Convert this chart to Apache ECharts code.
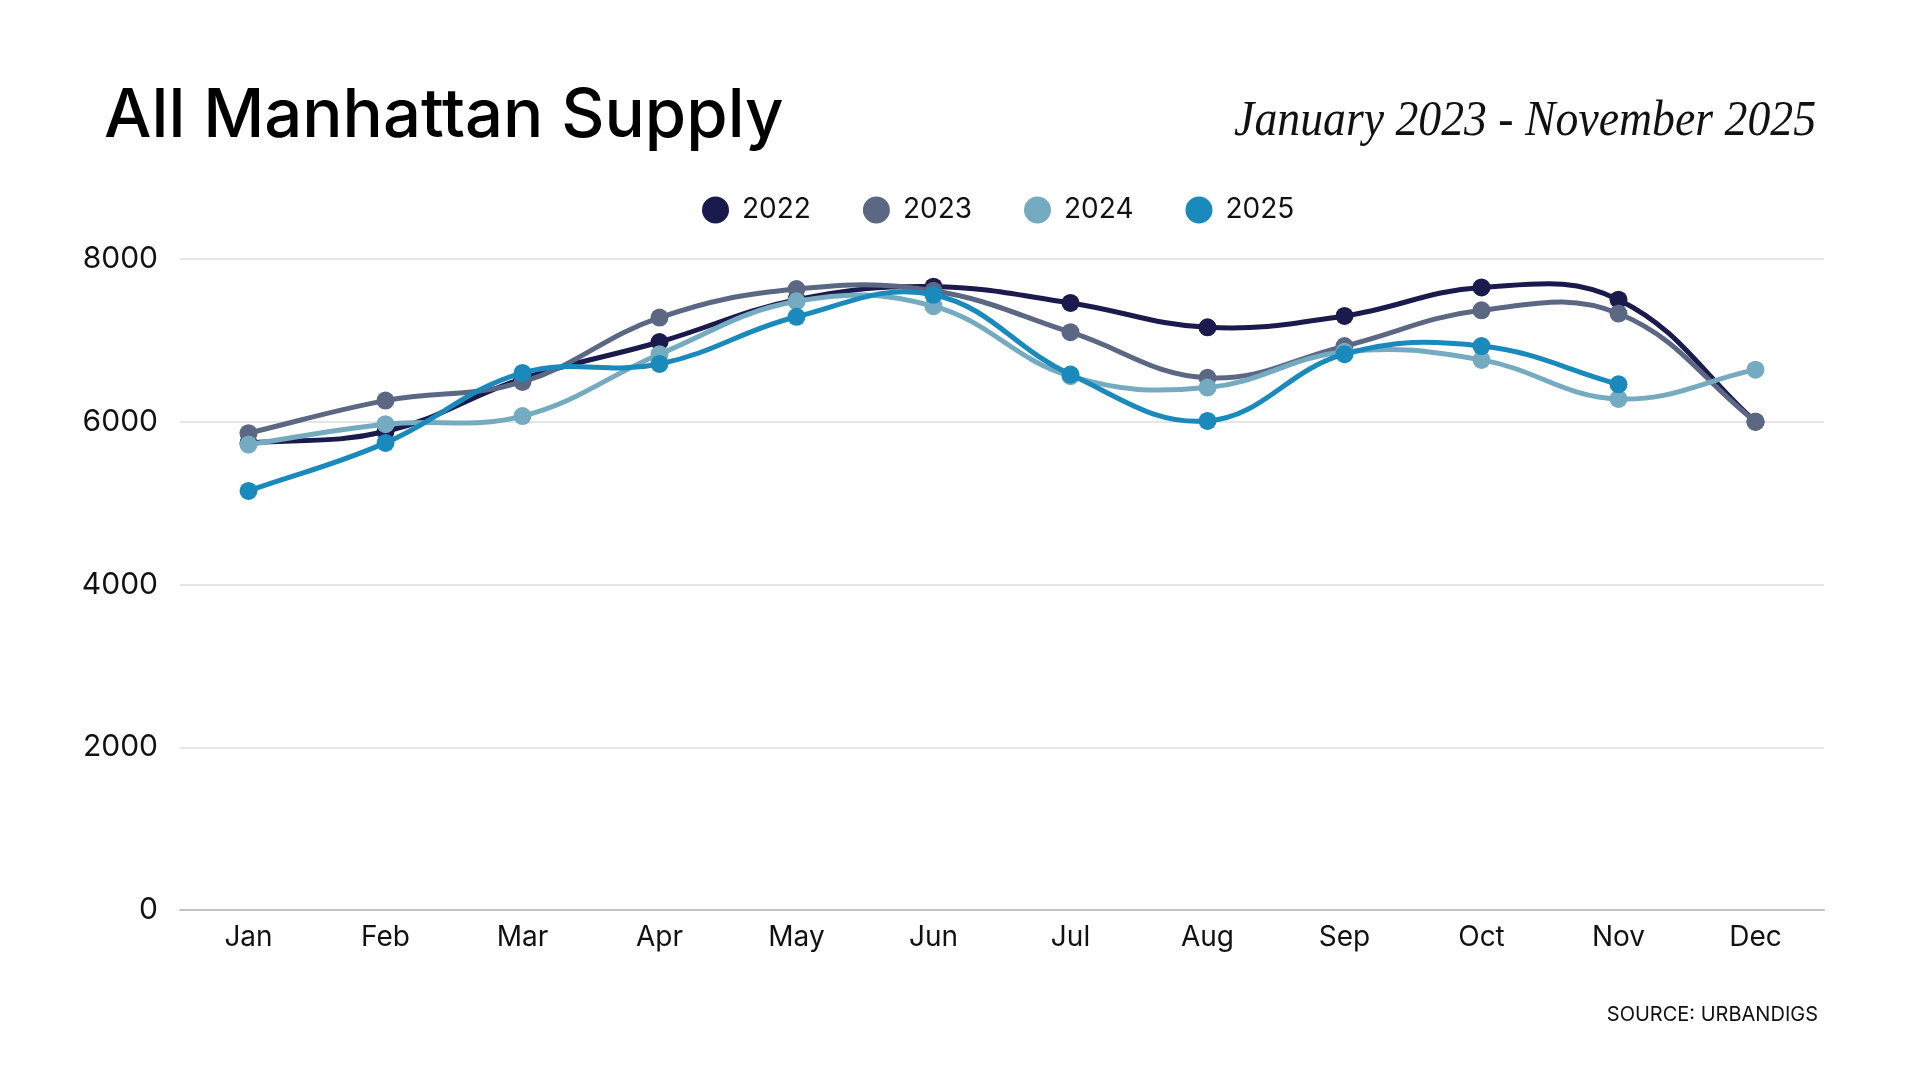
<!DOCTYPE html>
<html>
<head>
<meta charset="utf-8">
<script src="https://cdn.jsdelivr.net/npm/echarts@6/dist/echarts.min.js"></script>
<style>
html,body{margin:0;padding:0;background:#fff;}
#chart{width:1920px;height:1080px;}
</style>
</head>
<body>
<div id="chart"></div>
<script>
const categories = ['Jan','Feb','Mar','Apr','May','Jun','Jul','Aug','Sep','Oct','Nov','Dec'];
const seriesNames = ['2022','2023','2024','2025'];
const values2022 = [5740, 5880, 6530, 6980, 7500, 7660, 7460, 7160, 7300, 7650, 7500, 6000];
const values2023 = [5860, 6260, 6490, 7280, 7630, 7610, 7100, 6540, 6930, 7370, 7330, 6000];
const values2024 = [5720, 5970, 6070, 6830, 7480, 7420, 6560, 6420, 6860, 6760, 6280, 6640];
const values2025 = [5150, 5740, 6600, 6710, 7290, 7560, 6580, 6010, 6830, 6930, 6460];
const yTicks = [0, 2000, 4000, 6000, 8000];
const colors = ['#1b1a4d', '#5c6883', '#74abc0', '#1a89bc'];
const titleText = 'All Manhattan Supply';
const subtitleText = 'January 2023 - November 2025';
const sourceText = 'SOURCE: URBANDIGS';

const allValues = [values2022, values2023, values2024, values2025];
const TENSION = 0.4;

// spline through points computed with the chart's own scales (api.coord)
function splinePath(pts, t) {
  let d = 'M' + pts[0][0] + ' ' + pts[0][1];
  const cps = pts.map((p, k) => {
    const prev = pts[k - 1] || p, next = pts[k + 1] || p;
    const d01 = Math.hypot(p[0] - prev[0], p[1] - prev[1]);
    const d12 = Math.hypot(next[0] - p[0], next[1] - p[1]);
    let s01 = d01 / (d01 + d12 || 1), s12 = d12 / (d01 + d12 || 1);
    const fa = t * s01, fb = t * s12;
    return {
      prev: [p[0] - fa * (next[0] - prev[0]), p[1] - fa * (next[1] - prev[1])],
      next: [p[0] + fb * (next[0] - prev[0]), p[1] + fb * (next[1] - prev[1])]
    };
  });
  for (let k = 1; k < pts.length; k++) {
    const c1 = cps[k - 1].next, c2 = cps[k].prev, p = pts[k];
    d += ' C' + c1[0] + ' ' + c1[1] + ' ' + c2[0] + ' ' + c2[1] + ' ' + p[0] + ' ' + p[1];
  }
  return d;
}

const chart = echarts.init(document.getElementById('chart'), null, {renderer:'canvas'});
const font = 'Inter';

const series = [];
seriesNames.forEach((n, i) => {
  series.push({
    name: n,
    type: 'custom',
    coordinateSystem: 'cartesian2d',
    data: [[0, allValues[i][0]]],
    silent: true,
    clip: false,
    z: 2 + i * 2,
    renderItem: (params, api) => {
      const pts = allValues[i].map((v, k) => api.coord([k, v]));
      return {
        type: 'path',
        shape: {pathData: splinePath(pts, TENSION)},
        style: {stroke: colors[i], lineWidth: 5, fill: null, lineJoin: 'round', lineCap: 'round'}
      };
    }
  });
  series.push({
    name: n,
    type: 'line',
    data: allValues[i],
    symbol: 'circle',
    symbolSize: 18,
    showAllSymbol: true,
    lineStyle: {width: 0, opacity: 0},
    itemStyle: {color: colors[i]},
    z: 3 + i * 2
  });
});

chart.setOption({
  animation: false,
  backgroundColor: '#fff',
  color: colors,
  graphic: [
    {type:'text', x:104, y:117, style:{text:titleText, font:'500 67px Inter', fill:'#000', verticalAlign:'middle'}},
    {type:'text', x:1816, y:122, scaleX:0.915, style:{text:subtitleText, font:'italic 50px "Liberation Serif"', fill:'#111', align:'right', verticalAlign:'middle'}},
    {type:'text', x:1818, y:1015, style:{text:sourceText, font:'20px Inter', fill:'#111', align:'right', verticalAlign:'middle'}}
  ],
  legend: {
    data: seriesNames,
    left: 697,
    top: 191,
    icon: 'circle',
    itemWidth: 27,
    itemHeight: 27,
    itemGap: 52,
    textStyle: {fontFamily: font, fontSize: 28, color: '#111', padding:[0,0,0,8]}
  },
  grid: {left:180, right:96, top:259, bottom:170, containLabel:false},
  xAxis: {
    type: 'category',
    data: categories,
    boundaryGap: true,
    axisLine: {show:true, lineStyle:{color:'#c4c4c4', width:2}},
    axisTick: {show:false},
    axisLabel: {fontFamily: font, fontSize: 28, color:'#111', margin: 14}
  },
  yAxis: {
    type: 'value',
    min: 0, max: 8000, interval: 2000,
    axisLine: {show:false},
    axisTick: {show:false},
    splitLine: {lineStyle:{color:'#dcdcdc', width:1.5}},
    axisLabel: {fontFamily: font, fontSize: 30, color:'#111', margin: 22,
      formatter: v => yTicks.includes(v) ? String(v) : ''}
  },
  series: series
});
</script>
</body>
</html>
